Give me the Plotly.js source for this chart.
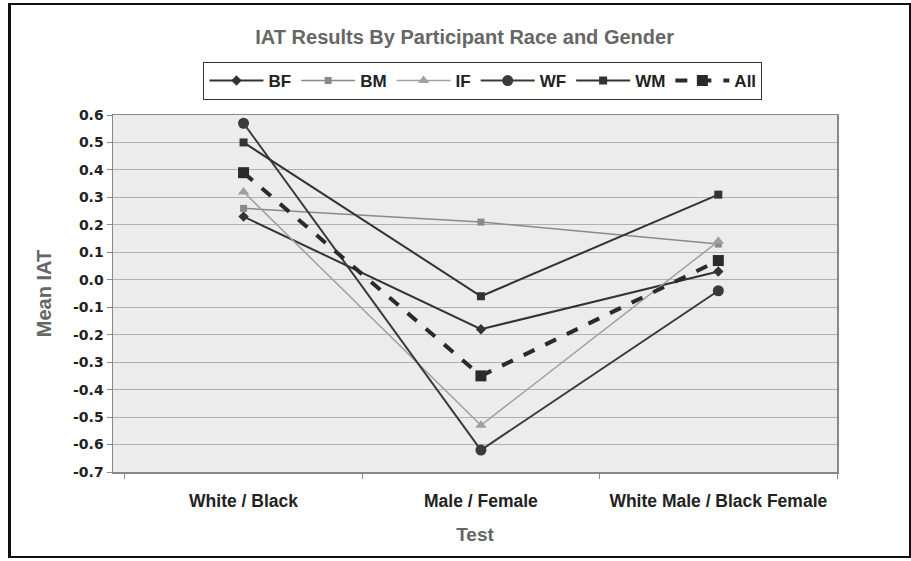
<!DOCTYPE html>
<html>
<head>
<meta charset="utf-8">
<script src="https://cdn.plot.ly/plotly-3.0.1.min.js"></script>
<style>
html,body{margin:0;padding:0;background:#fff;}
#wrap{position:relative;width:911px;height:561px;}
#chart{width:911px;height:561px;}
#frame{position:absolute;left:8px;top:3px;width:898px;height:551px;border:2px solid #111;border-left-width:3px;pointer-events:none;}
</style>
</head>
<body>
<div id="wrap"><div id="chart"></div><div id="frame"></div></div>
<script>
const categories = ["White / Black", "Male / Female", "White Male / Black Female"];
const BF  = [0.23, -0.18, 0.03];
const BM  = [0.26, 0.21, 0.13];
const IF  = [0.32, -0.53, 0.14];
const WF  = [0.57, -0.62, -0.04];
const WM  = [0.50, -0.06, 0.31];
const ALL = [0.39, -0.35, 0.07];
const yTickVals = [0.6,0.5,0.4,0.3,0.2,0.1,0.0,-0.1,-0.2,-0.3,-0.4,-0.5,-0.6,-0.7];
const yTickLabels = ["0.6","0.5","0.4","0.3","0.2","0.1","0.0","-0.1","-0.2","-0.3","-0.4","-0.5","-0.6","-0.7"];

const F = "Liberation Sans, Arial, sans-serif";
const FD = "DejaVu Sans, Verdana, sans-serif";
function tr(name, y, color, width, symbol, size, dash) {
  return {type:"scatter", mode:"lines+markers", name:name, x:categories, y:y,
    line:{color:color, width:width, dash:dash||"solid"},
    marker:{color:color, symbol:symbol, size:size}};
}
const data = [
  tr("BF", BF, "#333333", 2, "diamond", 8),
  tr("BM", BM, "#8a8a8a", 1.5, "square", 7),
  tr("IF", IF, "#a0a0a0", 1.5, "triangle-up", 10),
  tr("WF", WF, "#3a3a3a", 2, "circle", 11),
  tr("WM", WM, "#333333", 2, "square", 8),
  tr("All", ALL, "#2a2a2a", 4, "square", 11, "dash")
];
const layout = {
  width:911, height:561,
  margin:{l:113, r:74, t:115, b:89},
  paper_bgcolor:"#ffffff", plot_bgcolor:"#ececec",
  font:{family:F, color:"#222"},
  title:{text:"<b>IAT Results By Participant Race and Gender</b>", font:{family:F, size:20, color:"#666"},
    x:0.51, xanchor:"center", y:1-37/561, yref:"container", yanchor:"middle"},
  showlegend:true,
  legend:{orientation:"h", x:0.511, xanchor:"center", y:1.1485, yanchor:"top",
    bordercolor:"#333", borderwidth:1, bgcolor:"#fff",
    font:{family:F, size:17, color:"#222", weight:"bold"}, itemwidth:54, tracegroupgap:0},
  xaxis:{type:"category", range:[-0.55, 2.5], showgrid:false, zeroline:false,
    showline:true, linecolor:"#888", linewidth:1.5, mirror:true,
    ticks:"outside", tickson:"boundaries", ticklen:5, tickcolor:"#888",
    ticklabelstandoff:12,
    tickfont:{family:F, size:17.5, color:"#222", weight:"bold"},
    title:{text:"<b>Test</b>", font:{family:F, size:19, color:"#666"}, standoff:18}},
  yaxis:{range:[-0.7, 0.6], tickvals:yTickVals, ticktext:yTickLabels,
    showgrid:true, gridcolor:"#b0b0b0", gridwidth:1, zeroline:false,
    showline:true, linecolor:"#888", linewidth:1.5, mirror:true,
    ticks:"outside", ticklen:5, tickcolor:"#888",
    tickfont:{family:FD, size:14, color:"#222", weight:"bold"},
    title:{text:"<b>Mean IAT</b>", font:{family:F, size:20, color:"#666"}, standoff:16}}
};
Plotly.newPlot("chart", data, layout, {displayModeBar:false, staticPlot:true});
</script>
</body>
</html>
